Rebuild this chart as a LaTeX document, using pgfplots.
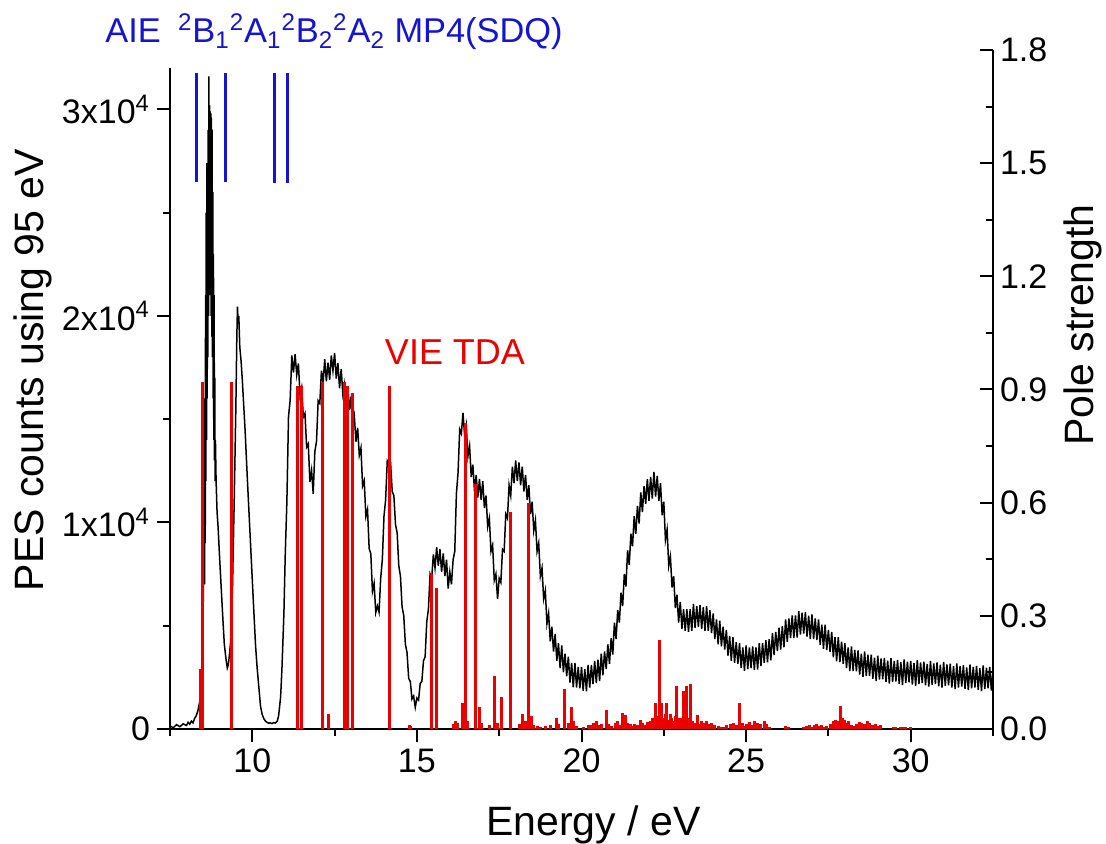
\documentclass[border=0pt]{standalone}
\usepackage{pgfplots}
\usepackage{pgfplotstable}
\pgfplotsset{compat=1.18}
\usepackage{fontspec}
\setmainfont{Liberation Sans}
\definecolor{pesblue}{RGB}{20,20,210}
\definecolor{tdared}{RGB}{235,0,0}

% PES spectrum, counts
\pgfplotstableread[row sep=\\]{
x y\\
7.50 150\\ 7.60 60\\ 7.70 210\\ 7.80 110\\ 7.90 250\\ 8.00 170\\ 8.05 320\\ 8.10 230\\ 8.15 380\\ 8.20 300\\
8.25 520\\ 8.30 650\\ 8.35 900\\ 8.40 1300\\ 8.45 2300\\ 8.48 3400\\ 8.50 4800\\ 8.52 7500\\ 8.54 12000\\ 8.55 7000\\
8.56 16000\\ 8.57 9000\\ 8.58 21000\\ 8.59 12000\\ 8.60 25000\\ 8.61 14000\\ 8.62 27400\\ 8.63 16000\\ 8.64 26000\\ 8.65 18000\\
8.66 29000\\ 8.67 20000\\ 8.68 31600\\ 8.69 21000\\ 8.70 30200\\ 8.71 22000\\ 8.72 29900\\ 8.73 21000\\ 8.74 29800\\ 8.75 20000\\
8.76 29600\\ 8.77 19000\\ 8.78 29000\\ 8.79 18000\\ 8.80 26000\\ 8.81 16000\\ 8.82 23000\\ 8.83 14000\\ 8.84 21000\\ 8.85 13000\\
8.86 17000\\ 8.87 12000\\ 8.88 14000\\ 8.90 12000\\ 8.93 10500\\ 8.96 9800\\ 9.00 8500\\ 9.05 7000\\ 9.10 5500\\ 9.15 4100\\
9.20 3400\\ 9.24 2950\\ 9.27 3100\\ 9.30 3500\\ 9.34 4200\\ 9.37 5500\\ 9.40 7000\\ 9.45 11000\\ 9.50 15500\\ 9.53 19000\\
9.55 20450\\ 9.57 19600\\ 9.59 20000\\ 9.62 18500\\ 9.66 17800\\ 9.70 16800\\ 9.78 14500\\ 9.85 12100\\ 9.93 9500\\ 10.00 7200\\
10.05 5600\\ 10.10 4000\\ 10.15 2900\\ 10.20 2000\\ 10.25 1100\\ 10.30 700\\ 10.35 500\\ 10.40 380\\ 10.45 320\\ 10.50 280\\
10.55 300\\ 10.60 260\\ 10.65 310\\ 10.70 290\\ 10.76 380\\ 10.80 650\\ 10.86 1550\\ 10.90 2900\\ 10.96 5600\\
11.00 8400\\ 11.05 10990\\ 11.10 15130\\ 11.15 15920\\ 11.20 18090\\ 11.25 17260\\ 11.30 18150\\ 11.35 17140\\ 11.40 17700\\ 11.45 16130\\
11.50 16530\\ 11.55 15110\\ 11.60 15280\\ 11.65 13650\\ 11.70 13810\\ 11.75 11960\\ 11.80 12520\\ 11.85 11390\\ 11.90 13430\\ 11.95 13920\\
12.00 15890\\ 12.05 15760\\ 12.10 17350\\ 12.15 16740\\ 12.20 17900\\ 12.25 16830\\ 12.30 17730\\ 12.35 16910\\ 12.40 18080\\ 12.45 17350\\
12.50 18210\\ 12.55 16960\\ 12.60 17720\\ 12.65 16490\\ 12.70 17430\\ 12.75 16220\\ 12.80 16690\\ 12.85 15560\\ 12.90 16550\\ 12.95 15440\\
13.00 16100\\ 13.05 14630\\ 13.10 15130\\ 13.15 13910\\ 13.20 14580\\ 13.25 13250\\ 13.30 13610\\ 13.35 11760\\ 13.40 12020\\ 13.45 10290\\
13.50 10630\\ 13.55 8720\\ 13.60 8490\\ 13.65 6660\\ 13.70 7050\\ 13.75 5640\\ 13.80 5950\\ 13.85 5650\\ 13.90 7300\\ 13.95 8200\\
14.00 10300\\ 14.05 11100\\ 14.10 13000\\ 14.15 12900\\ 14.20 12900\\ 14.25 11500\\ 14.30 11300\\ 14.35 9900\\ 14.40 9500\\ 14.45 7900\\
14.50 7400\\ 14.55 5900\\ 14.60 5500\\ 14.65 4100\\ 14.70 3700\\ 14.75 2450\\ 14.80 2300\\ 14.85 1450\\ 14.90 1600\\ 14.95 1050\\
15.00 1500\\ 15.05 1400\\ 15.10 2200\\ 15.15 2300\\ 15.20 3300\\ 15.25 3500\\ 15.30 5200\\ 15.35 5800\\ 15.40 7500\\ 15.45 7300\\
15.50 8450\\ 15.55 7800\\ 15.60 8800\\ 15.65 7900\\ 15.70 8700\\ 15.75 7600\\ 15.80 8500\\ 15.85 7400\\ 15.90 8200\\ 15.95 6800\\
16.00 7600\\ 16.05 7000\\ 16.10 8200\\ 16.15 8600\\ 16.20 11400\\ 16.25 12400\\ 16.30 14500\\ 16.35 14300\\ 16.40 15300\\ 16.45 14200\\
16.50 14700\\ 16.55 13200\\ 16.60 13700\\ 16.65 12200\\ 16.70 12800\\ 16.75 11500\\ 16.80 12300\\ 16.85 11200\\ 16.90 12100\\ 16.95 11100\\
17.00 12000\\ 17.05 10700\\ 17.10 11300\\ 17.15 9800\\ 17.20 10200\\ 17.25 8600\\ 17.30 8900\\ 17.35 7200\\ 17.40 7500\\ 17.45 6300\\
17.50 7300\\ 17.55 7100\\ 17.60 8700\\ 17.65 8600\\ 17.70 10400\\ 17.75 10200\\ 17.80 11800\\ 17.85 11300\\ 17.90 12700\\ 17.95 11900\\
18.00 13000\\ 18.05 12000\\ 18.10 12900\\ 18.15 11800\\ 18.20 12700\\ 18.25 11500\\ 18.30 12300\\ 18.35 11100\\ 18.40 11800\\ 18.45 10400\\
18.50 11000\\ 18.55 9600\\ 18.60 10100\\ 18.65 8600\\ 18.70 9000\\ 18.75 7400\\ 18.80 7800\\ 18.85 6300\\ 18.90 6700\\ 18.95 5100\\
19.00 5600\\ 19.05 4250\\ 19.10 4950\\ 19.15 3750\\ 19.20 4600\\ 19.25 3300\\ 19.30 4150\\ 19.35 2950\\ 19.40 4050\\ 19.45 2750\\
19.50 3650\\ 19.55 2550\\ 19.60 3500\\ 19.65 2250\\ 19.70 3200\\ 19.75 2020\\ 19.80 3200\\ 19.85 2000\\ 19.90 3000\\ 19.95 1970\\
20.00 3000\\ 20.05 1850\\ 20.10 2900\\ 20.15 1820\\ 20.20 3100\\ 20.25 2000\\ 20.30 3100\\ 20.35 2170\\ 20.40 3300\\ 20.45 2220\\
20.50 3350\\ 20.55 2320\\ 20.60 3650\\ 20.65 2600\\ 20.70 3750\\ 20.75 2900\\ 20.80 4100\\ 20.85 3150\\ 20.90 4400\\ 20.95 3600\\
21.00 5150\\ 21.05 4350\\ 21.10 5750\\ 21.15 5150\\ 21.20 6600\\ 21.25 5950\\ 21.30 7500\\ 21.35 6900\\ 21.40 8650\\ 21.45 7950\\
21.50 9450\\ 21.55 8850\\ 21.60 10300\\ 21.65 9450\\ 21.70 10800\\ 21.75 9950\\ 21.80 11450\\ 21.85 10500\\ 21.90 11750\\ 21.95 10900\\
22.00 12100\\ 22.05 11050\\ 22.10 12200\\ 22.15 11150\\ 22.20 12450\\ 22.25 11250\\ 22.30 12250\\ 22.35 11050\\ 22.40 11900\\ 22.45 10350\\
22.50 11000\\ 22.55 9150\\ 22.60 9650\\ 22.65 7900\\ 22.70 8350\\ 22.75 6850\\ 22.80 7400\\ 22.85 5850\\ 22.90 6500\\ 22.95 5150\\
23.00 6150\\ 23.05 4850\\ 23.10 5800\\ 23.15 4750\\ 23.20 5800\\ 23.25 4700\\ 23.30 5800\\ 23.35 4750\\ 23.40 6050\\ 23.45 4900\\
23.50 5950\\ 23.55 4950\\ 23.60 6000\\ 23.65 4850\\ 23.70 5900\\ 23.75 4750\\ 23.80 5950\\ 23.85 4750\\ 23.90 5750\\ 23.95 4650\\
24.00 5600\\ 24.05 4350\\ 24.10 5300\\ 24.15 4100\\ 24.20 5250\\ 24.25 4000\\ 24.30 4950\\ 24.35 3850\\ 24.40 4800\\ 24.45 3550\\
24.50 4500\\ 24.55 3300\\ 24.60 4450\\ 24.65 3200\\ 24.70 4200\\ 24.75 3150\\ 24.80 4150\\ 24.85 2950\\ 24.90 3950\\ 24.95 2820\\
25.00 4050\\ 25.05 2900\\ 25.10 3950\\ 25.15 2950\\ 25.20 4000\\ 25.25 2870\\ 25.30 3950\\ 25.35 2880\\ 25.40 4150\\ 25.45 3050\\
25.50 4150\\ 25.55 3200\\ 25.60 4300\\ 25.65 3230\\ 25.70 4350\\ 25.75 3320\\ 25.80 4650\\ 25.85 3580\\ 25.90 4700\\ 25.95 3770\\
26.00 4900\\ 26.05 3840\\ 26.10 4980\\ 26.15 3960\\ 26.20 5300\\ 26.25 4220\\ 26.30 5350\\ 26.35 4400\\ 26.40 5500\\ 26.45 4400\\
26.50 5500\\ 26.55 4430\\ 26.60 5700\\ 26.65 4570\\ 26.70 5630\\ 26.75 4620\\ 26.80 5650\\ 26.85 4470\\ 26.90 5490\\ 26.95 4350\\
27.00 5550\\ 27.05 4350\\ 27.10 5350\\ 27.15 4300\\ 27.20 5300\\ 27.25 4070\\ 27.30 5050\\ 27.35 3880\\ 27.40 5050\\ 27.45 3820\\
27.50 4800\\ 27.55 3730\\ 27.60 4700\\ 27.65 3470\\ 27.70 4450\\ 27.75 3280\\ 27.80 4450\\ 27.85 3240\\ 27.90 4230\\ 27.95 3160\\
28.00 4150\\ 28.05 2950\\ 28.10 3950\\ 28.15 2800\\ 28.20 4000\\ 28.25 2810\\ 28.30 3830\\ 28.35 2790\\ 28.40 3800\\ 28.45 2630\\
28.50 3650\\ 28.55 2520\\ 28.60 3750\\ 28.65 2570\\ 28.70 3600\\ 28.75 2570\\ 28.80 3600\\ 28.85 2430\\ 28.90 3450\\ 28.95 2320\\
29.00 3550\\ 29.05 2390\\ 29.10 3420\\ 29.15 2410\\ 29.20 3440\\ 29.25 2280\\ 29.30 3310\\ 29.35 2200\\ 29.40 3430\\ 29.45 2270\\
29.50 3300\\ 29.55 2300\\ 29.60 3340\\ 29.65 2190\\ 29.70 3230\\ 29.75 2130\\ 29.80 3370\\ 29.85 2220\\ 29.90 3260\\ 29.95 2260\\
30.00 3300\\ 30.05 2150\\ 30.10 3190\\ 30.15 2090\\ 30.20 3330\\ 30.25 2180\\ 30.30 3220\\ 30.35 2220\\ 30.40 3260\\ 30.45 2110\\
30.50 3150\\ 30.55 2050\\ 30.60 3290\\ 30.65 2140\\ 30.70 3180\\ 30.75 2180\\ 30.80 3220\\ 30.85 2070\\ 30.90 3110\\ 30.95 2010\\
31.00 3250\\ 31.05 2090\\ 31.10 3130\\ 31.15 2120\\ 31.20 3160\\ 31.25 2000\\ 31.30 3040\\ 31.35 1930\\ 31.40 3170\\ 31.45 2010\\
31.50 3050\\ 31.55 2050\\ 31.60 3090\\ 31.65 1940\\ 31.70 2980\\ 31.75 1880\\ 31.80 3120\\ 31.85 1970\\ 31.90 3010\\ 31.95 2010\\
32.00 3050\\ 32.05 1900\\ 32.10 2940\\ 32.15 1840\\ 32.20 3080\\ 32.25 1930\\ 32.30 2970\\ 32.35 1970\\ 32.40 3010\\ 32.45 1860\\
32.50 2900\\
}\pes

% TDA poles: energy / eV, pole strength
\pgfplotstableread[row sep=\\]{
x p\\
8.44 0.16\\ 8.48 0.92\\ 9.37 0.92\\ 11.38 0.91\\ 11.50 0.91\\ 12.12 0.92\\ 12.31 0.04\\ 12.81 0.92\\ 12.90 0.91\\ 13.04 0.89\\
14.17 0.91\\ 14.78 0.01\\ 14.82 0.008\\ 15.44 0.41\\ 15.59 0.375\\ 16.10 0.012\\ 16.16 0.02\\ 16.22 0.015\\ 16.38 0.07\\ 16.48 0.81\\
16.55 0.02\\ 16.78 0.65\\ 16.90 0.058\\ 16.95 0.015\\ 17.20 0.01\\ 17.37 0.14\\ 17.45 0.015\\ 17.56 0.085\\ 17.85 0.575\\ 18.12 0.012\\
18.22 0.04\\ 18.30 0.02\\ 18.38 0.60\\ 18.47 0.035\\ 18.55 0.01\\ 18.65 0.008\\ 18.75 0.006\\ 18.90 0.008\\ 19.05 0.01\\ 19.23 0.028\\
19.30 0.012\\ 19.49 0.105\\ 19.60 0.015\\ 19.70 0.058\\ 19.75 0.02\\ 19.85 0.008\\ 20.05 0.006\\ 20.20 0.01\\ 20.27 0.011\\ 20.35 0.015\\
20.47 0.02\\ 20.55 0.01\\ 20.62 0.014\\ 20.75 0.05\\ 20.82 0.012\\ 20.90 0.008\\ 21.03 0.015\\ 21.10 0.02\\ 21.18 0.01\\ 21.26 0.042\\
21.33 0.037\\ 21.40 0.015\\ 21.48 0.012\\ 21.55 0.008\\ 21.62 0.012\\ 21.70 0.01\\ 21.78 0.024\\ 21.85 0.015\\ 21.92 0.01\\ 22.00 0.018\\
22.09 0.02\\ 22.15 0.03\\ 22.20 0.015\\ 22.24 0.068\\ 22.30 0.035\\ 22.36 0.237\\ 22.40 0.045\\ 22.44 0.068\\ 22.50 0.03\\ 22.54 0.04\\
22.59 0.068\\ 22.64 0.025\\ 22.70 0.04\\ 22.74 0.03\\ 22.79 0.02\\ 22.84 0.035\\ 22.90 0.114\\ 22.95 0.03\\ 23.00 0.03\\ 23.05 0.02\\
23.10 0.10\\ 23.15 0.025\\ 23.20 0.113\\ 23.25 0.03\\ 23.31 0.12\\ 23.36 0.02\\ 23.42 0.015\\ 23.51 0.037\\ 23.58 0.012\\ 23.65 0.02\\
23.72 0.015\\ 23.80 0.02\\ 23.88 0.012\\ 23.95 0.015\\ 24.05 0.01\\ 24.15 0.008\\ 24.22 0.006\\ 24.30 0.006\\ 24.40 0.01\\ 24.52 0.012\\
24.62 0.015\\ 24.70 0.01\\ 24.80 0.068\\ 24.88 0.015\\ 24.95 0.008\\ 25.02 0.012\\ 25.10 0.018\\ 25.18 0.01\\ 25.26 0.02\\ 25.35 0.015\\
25.45 0.012\\ 25.55 0.02\\ 25.63 0.012\\ 25.72 0.005\\ 26.20 0.008\\ 26.30 0.006\\ 26.75 0.004\\ 26.84 0.008\\ 26.92 0.01\\ 27.00 0.006\\
27.08 0.01\\ 27.15 0.012\\ 27.22 0.008\\ 27.30 0.01\\ 27.38 0.006\\ 27.45 0.008\\ 27.55 0.012\\ 27.65 0.02\\ 27.72 0.025\\ 27.80 0.02\\
27.87 0.06\\ 27.92 0.03\\ 27.98 0.025\\ 28.05 0.015\\ 28.12 0.02\\ 28.20 0.01\\ 28.28 0.008\\ 28.36 0.012\\ 28.44 0.018\\ 28.52 0.015\\
28.60 0.012\\ 28.68 0.02\\ 28.76 0.015\\ 28.85 0.01\\ 28.92 0.012\\ 29.00 0.008\\ 29.07 0.01\\ 29.47 0.005\\ 29.55 0.006\\ 29.70 0.006\\
29.78 0.004\\ 29.85 0.006\\ 29.98 0.004\\
}\tda

\begin{document}
\begin{tikzpicture}
\path[use as bounding box] (0,0) rectangle (553pt,422pt);

\begin{axis}[
    at={(85pt,57.5pt)}, anchor=south west,
    scale only axis, width=411.5pt, height=330.5pt,
    xmin=7.5, xmax=32.5, ymin=0, ymax=32000,
    axis x line*=bottom, axis y line*=left,
    axis line style={line width=1pt},
    tick align=outside,
    every tick/.style={black, line width=1pt},
    major tick length=6.5pt, minor tick length=3.5pt,
    xtick={10,15,20,25,30}, xticklabels={10,15,20,25,30},
    minor xtick={7.5,12.5,17.5,22.5,27.5,32.5},
    ytick={0,10000,20000,30000},
    yticklabels={0,1x10\textsuperscript{4},2x10\textsuperscript{4},3x10\textsuperscript{4}},
    minor ytick={5000,15000,25000},
    scaled y ticks=false,
    tick label style={font=\fontsize{17}{20}\selectfont},
]
\addplot[black, line width=0.75pt] table[x=x, y=y] {\pes};
% MP4(SDQ) adiabatic ionisation energies
\addplot[pesblue, line width=1.5pt] coordinates {(8.31,26470) (8.31,31750)};
\addplot[pesblue, line width=1.5pt] coordinates {(9.19,26470) (9.19,31750)};
\addplot[pesblue, line width=1.5pt] coordinates {(10.68,26420) (10.68,31750)};
\addplot[pesblue, line width=1.5pt] coordinates {(11.08,26420) (11.08,31750)};
\end{axis}

\begin{axis}[
    at={(85pt,57.5pt)}, anchor=south west,
    scale only axis, width=411.5pt, height=339.5pt,
    xmin=7.5, xmax=32.5, ymin=0, ymax=1.8,
    axis x line=none, axis y line*=right,
    axis line style={line width=1pt},
    tick align=inside,
    every tick/.style={black, line width=1pt},
    major tick length=6.5pt, minor tick length=3.5pt,
    ytick={0,0.3,0.6,0.9,1.2,1.5,1.8},
    yticklabels={0.0,0.3,0.6,0.9,1.2,1.5,1.8},
    minor ytick={0.15,0.45,0.75,1.05,1.35,1.65},
    tick label style={font=\fontsize{17}{20}\selectfont},
]
\addplot[ycomb, tdared, line width=1.5pt, mark=none] table[x=x, y=p] {\tda};
\end{axis}

\node[rotate=90, font=\fontsize{20.5}{24}\selectfont] at (16.5pt,237pt) {PES counts using 95 eV};
\node[anchor=base, font=\fontsize{20.5}{24}\selectfont] at (296.75pt,4pt) {Energy / eV};
\node[rotate=90, font=\fontsize{20.5}{24}\selectfont] at (541.5pt,259.5pt) {Pole strength};
\node[anchor=base west, text=pesblue, inner sep=0pt, font=\fontsize{17.2}{21}\selectfont] at (52.5pt,400.5pt)
  {AIE\hspace{0.5em}\textsuperscript{2}B\textsubscript{1}\textsuperscript{2}A\textsubscript{1}\textsuperscript{2}B\textsubscript{2}\textsuperscript{2}A\textsubscript{2} MP4(SDQ)};
\node[text=tdared, font=\fontsize{18}{22}\selectfont] at (227.5pt,246pt) {VIE TDA};
\end{tikzpicture}
\end{document}
